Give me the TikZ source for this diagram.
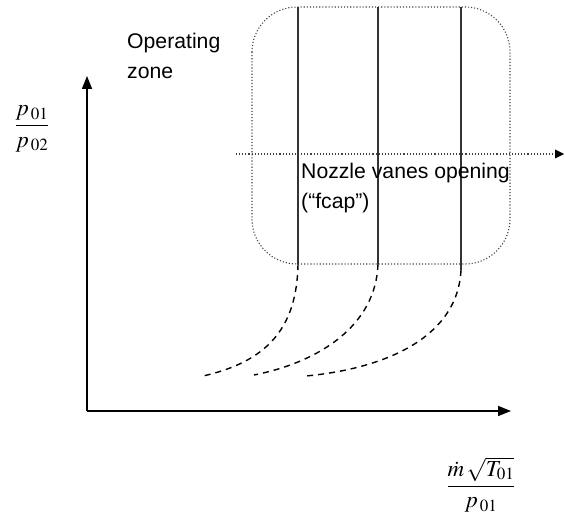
\documentclass[tikz,border=0pt]{standalone}
\usepackage{amsmath}
\usepackage{mathptmx}
\usepackage[no-math]{fontspec}
\newfontfamily\arialfont{Liberation Sans}
\usetikzlibrary{arrows,arrows.meta,positioning,calc}

\begin{document}
\begin{tikzpicture}[x=1pt,y=-1pt,
axis/.style={line width=1.6pt,-{Triangle[length=13pt,width=10pt]}},
vane/.style={line width=1.3pt,black!80},
branch/.style={line width=1.4pt,dash pattern=on 6pt off 5pt},
zone/.style={line width=1.1pt,dotted,black!75},
txt/.style={font=\fontsize{21.2}{30}\selectfont\arialfont,align=left,inner sep=0pt},
frac/.style={font=\fontsize{23}{27}\selectfont,inner sep=0pt}]
\useasboundingbox (0,0) rectangle (565,521);
% axes
\coordinate (o) at (87,411);
\coordinate (ytop) at (87,76);
\coordinate (xend) at (511,411);
\draw[axis] (o) -- (ytop);
\draw[axis] (o) -- (xend);
% operating zone
\draw[zone,rounded corners=45pt] (252,7) rectangle (510,264);
\coordinate (hl) at (236,154);
\coordinate (hr) at (564,154);
\draw[zone] (hl) -- ($(hr)+(-8,0)$);
\fill[black] (hr) -- ++(-9,-4.5) -- ++(0,9) -- cycle;
% vanes
\coordinate (v1t) at (298,7);  \coordinate (v1b) at (298,264);
\coordinate (v2t) at (378,7);  \coordinate (v2b) at (378,264);
\coordinate (v3t) at (461,7);  \coordinate (v3b) at (461,270);
\draw[vane] (v1t) -- (v1b);
\draw[vane] (v2t) -- (v2b);
\draw[vane] (v3t) -- (v3b);
% surge-side branches
\coordinate (c1) at (203,376);
\coordinate (c2) at (254,375);
\coordinate (c3) at (306,376);
\draw[branch] (v1b) .. controls (297,330) and (265,362) .. (c1);
\draw[branch] (v2b) .. controls (376,325) and (320,362) .. (c2);
\draw[branch] (v3b) .. controls (458,335) and (390,368) .. (c3);
% labels
\node[txt,anchor=north west] (opzone) at (127,33) {Operating\\zone};
\node[txt,anchor=north west] (vanes) at (301,163) {Nozzle vanes opening\\(“fcap”)};
\node[frac] (ylabel) at (32,129) {$\dfrac{p_{\,01}}{p_{\,02}}$};
\node[frac] (xlabel) at (481,485) {$\dfrac{\dot{m}\,\sqrt{T_{01}}}{p_{\,01}}$};
\end{tikzpicture}
\end{document}
